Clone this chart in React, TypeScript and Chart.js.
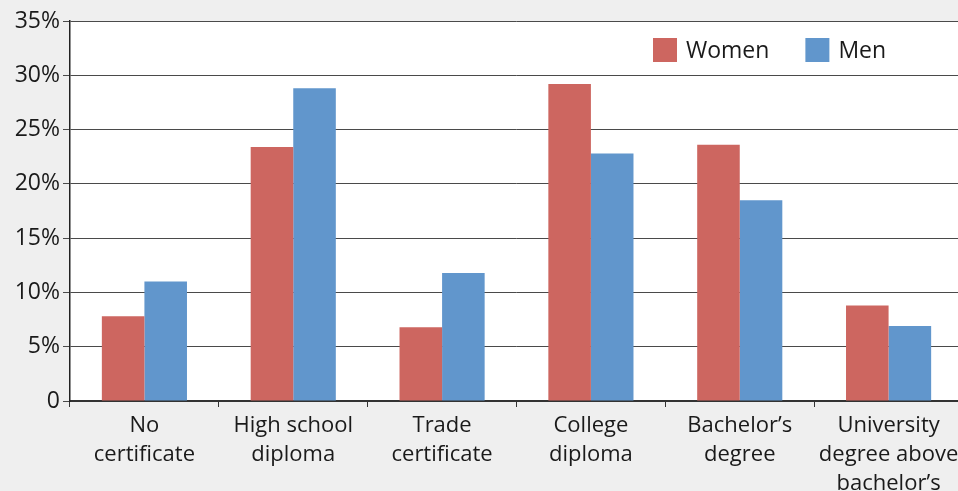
import React, { useEffect, useRef } from "react";
import { Chart, registerables } from "chart.js";

Chart.register(...registerables);

const categories: string[][] = [
  ["No", "certificate"],
  ["High school", "diploma"],
  ["Trade", "certificate"],
  ["College", "diploma"],
  ["Bachelor\u2019s", "degree"],
  ["University", "degree above", "bachelor\u2019s"],
];
const seriesNames = ["Women", "Men"];
const women = [7.8, 23.4, 6.8, 29.2, 23.6, 8.8];
const men = [11.0, 28.8, 11.8, 22.8, 18.5, 6.9];
const yMin = 0;
const yMax = 35;
const yStep = 5;

const FONT = "'Open Sans', 'DejaVu Sans', sans-serif";
const TEXT = "#1a1a1a";

const plotBgPlugin = {
  id: "plotBg",
  beforeDraw(chart: any) {
    const { ctx, chartArea } = chart;
    ctx.save();
    ctx.fillStyle = "#ffffff";
    ctx.fillRect(chartArea.left, chartArea.top, chartArea.right - chartArea.left, chartArea.bottom - chartArea.top);
    ctx.restore();
  },
};

const legendPlugin = {
  id: "insideLegend",
  afterDraw(chart: any) {
    const { ctx, chartArea } = chart;
    ctx.save();
    ctx.font = `23px ${FONT}`;
    ctx.textBaseline = "middle";
    ctx.fillStyle = TEXT;
    let x = 653;
    const y = chartArea.top + 17;
    chart.data.datasets.forEach((ds: any) => {
      ctx.fillStyle = ds.backgroundColor;
      ctx.fillRect(x, y, 24, 24);
      ctx.fillStyle = TEXT;
      ctx.fillText(ds.label, x + 33, y + 13);
      x += 33 + ctx.measureText(ds.label).width + 36;
    });
    ctx.restore();
  },
};

export default function App() {
  const ref = useRef<HTMLCanvasElement>(null);
  useEffect(() => {
    document.body.style.margin = "0";
    document.body.style.background = "#efefef";
    const chart = new Chart(ref.current!, {
      type: "bar",
      data: {
        labels: categories,
        datasets: [
          { label: seriesNames[0], data: women, backgroundColor: "#cd6660" },
          { label: seriesNames[1], data: men, backgroundColor: "#6196cc" },
        ],
      },
      options: {
        animation: false,
        responsive: false,
        layout: { padding: { top: 21, right: 0, bottom: 0, left: 0 } },
        datasets: { bar: { categoryPercentage: 0.572, barPercentage: 1 } },
        plugins: { legend: { display: false }, tooltip: { enabled: false } },
        scales: {
          x: {
            grid: {
              offset: true,
              drawOnChartArea: false,
              drawTicks: true,
              tickLength: 6,
              color: "#333",
            },
            border: { color: "#333", width: 2 },
            ticks: {
              color: TEXT,
              font: { family: FONT, size: 22, lineHeight: 1.32 },
              padding: 4,
              maxRotation: 0,
              autoSkip: false,
            },
            afterFit(scale: any) {
              scale.height = 90;
            },
          },
          y: {
            min: yMin,
            max: yMax,
            grid: { color: "#4a4a4a", lineWidth: 1, tickLength: 7 },
            border: { color: "#222", width: 1.5 },
            ticks: {
              stepSize: yStep,
              color: TEXT,
              font: { family: FONT, size: 23 },
              padding: 3,
              callback: (v: any) => (v === 0 ? "0" : `${v}%`),
            },
            afterFit(scale: any) {
              scale.width = 70;
            },
          },
        },
      },
      plugins: [plotBgPlugin, legendPlugin],
    } as any);
    return () => chart.destroy();
  }, []);
  return (
    <div style={{ position: "absolute", left: 0, top: 0, width: 958, height: 491, overflow: "hidden", background: "#efefef" }}>
      <canvas ref={ref} width={963} height={491} style={{ display: "block" }} />
    </div>
  );
}
